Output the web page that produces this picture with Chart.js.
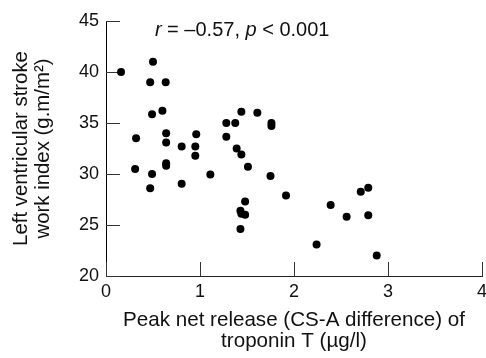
<!DOCTYPE html>
<html>
<head>
<meta charset="utf-8">
<script src="https://cdn.jsdelivr.net/npm/chart.js@4.4.1/dist/chart.umd.min.js"></script>
<style>
  html, body { margin: 0; padding: 0; background: #fff; }
  canvas { display: block; }
</style>
</head>
<body>
<canvas id="chartCanvas" width="486" height="358"></canvas>
<script>
// Peak net release of troponin T (ug/l) vs LVSWI (g.m/m2)
const troponin = [0.16, 0.50, 0.47, 0.635, 0.49, 0.60, 0.32, 0.64, 0.64, 0.805, 0.96, 0.95,
  1.28, 1.375, 1.44, 1.61, 1.76, 1.76, 1.28, 1.39, 0.95, 1.44, 1.51, 0.31, 0.49, 0.64, 0.64,
  0.47, 0.805, 1.11, 1.75, 1.915, 1.48, 1.43, 1.44, 1.48, 1.43, 2.39, 2.71, 2.79, 2.56, 2.79,
  2.24, 2.88];
const lvswi = [40.0, 41.0, 39.0, 39.0, 35.85, 36.2, 33.5, 34.0, 33.1, 32.7, 33.9, 32.7,
  35.0, 35.0, 36.1, 36.0, 35.0, 34.7, 33.65, 32.5, 31.8, 31.9, 30.7, 30.5, 30.0, 31.05, 30.8,
  28.6, 29.05, 29.96, 29.8, 27.9, 27.3, 26.4, 26.1, 26.0, 24.6, 26.96, 28.27, 28.66, 25.8, 25.95,
  23.1, 22.0];

const xTicks = [0, 1, 2, 3, 4];
const yTicks = [20, 25, 30, 35, 40, 45];

const FONT = "'Liberation Sans', Arial, Helvetica, sans-serif";
const INK = '#111';

// inward tick marks (reference draws them inside the plot)
const innerTicks = {
  id: 'innerTicks',
  beforeDatasetsDraw(chart) {
    const { ctx, scales: { x, y } } = chart;
    const len = 14;
    ctx.save();
    ctx.strokeStyle = '#333';
    ctx.lineWidth = 1;
    ctx.beginPath();
    yTicks.forEach((v) => {
      const py = Math.round(y.getPixelForValue(v)) + 0.5;
      ctx.moveTo(x.left, py);
      ctx.lineTo(x.left + len, py);
    });
    xTicks.forEach((v) => {
      const px = Math.round(x.getPixelForValue(v)) + 0.5;
      ctx.moveTo(px, y.bottom);
      ctx.lineTo(px, y.bottom - len);
    });
    ctx.stroke();
    ctx.restore();
  },
};

// correlation note, r and p in italics
const statNote = {
  id: 'statNote',
  afterDraw(chart) {
    const { ctx, scales: { x, y } } = chart;
    const parts = [
      ['r', true],
      [' = \u20130.57, ', false],
      ['p', true],
      [' < 0.001', false],
    ];
    let px = x.getPixelForValue(0.52);
    const py = y.getPixelForValue(43.5);
    ctx.save();
    ctx.fillStyle = INK;
    ctx.textBaseline = 'alphabetic';
    parts.forEach(([txt, italic]) => {
      ctx.font = (italic ? 'italic ' : '') + '20px ' + FONT;
      ctx.fillText(txt, px, py);
      px += ctx.measureText(txt).width;
    });
    ctx.restore();
  },
};

const points = troponin.map((t, i) => ({ x: t, y: lvswi[i] }));

new Chart(document.getElementById('chartCanvas'), {
  type: 'scatter',
  data: {
    datasets: [{
      data: points,
      backgroundColor: '#000',
      borderColor: '#000',
      pointRadius: 4,
      pointHoverRadius: 4,
      borderWidth: 0,
    }],
  },
  options: {
    responsive: false,
    animation: false,
    events: [],
    layout: { padding: { left: 0, right: 4, top: 21, bottom: 0 } },
    plugins: {
      legend: { display: false },
      tooltip: { enabled: false },
    },
    scales: {
      x: {
        type: 'linear',
        min: 0,
        max: 4,
        afterBuildTicks: (s) => { s.ticks = xTicks.map((v) => ({ value: v })); },
        afterFit: (s) => { s.height = 82; s.paddingLeft = 0; s.paddingRight = 0; },
        grid: { display: true, drawOnChartArea: false, drawTicks: false },
        border: { display: true, color: '#222', width: 1 },
        ticks: { color: INK, padding: 5, font: { family: FONT, size: 18 } },
        title: {
          display: true,
          text: ['Peak net release (CS-A difference) of', 'troponin T (\u00b5g/l)'],
          color: INK,
          font: { family: FONT, size: 20.6, lineHeight: 1.02 },
          padding: { top: 0, bottom: 6 },
        },
      },
      y: {
        type: 'linear',
        min: 20,
        max: 45,
        afterBuildTicks: (s) => { s.ticks = yTicks.map((v) => ({ value: v })); },
        afterFit: (s) => { s.width = 106; s.paddingTop = 0; s.paddingBottom = 0; },
        grid: { display: true, drawOnChartArea: false, drawTicks: false },
        border: { display: true, color: '#000', width: 1 },
        ticks: { color: INK, padding: 7, font: { family: FONT, size: 18 } },
        title: {
          display: true,
          text: ['Left ventricular stroke', 'work index (g.m/m\u00b2)'],
          color: INK,
          font: { family: FONT, size: 20.4, lineHeight: 1.08 },
          padding: { top: 10, bottom: 0 },
        },
      },
    },
  },
  plugins: [innerTicks, statNote],
});
</script>
</body>
</html>
